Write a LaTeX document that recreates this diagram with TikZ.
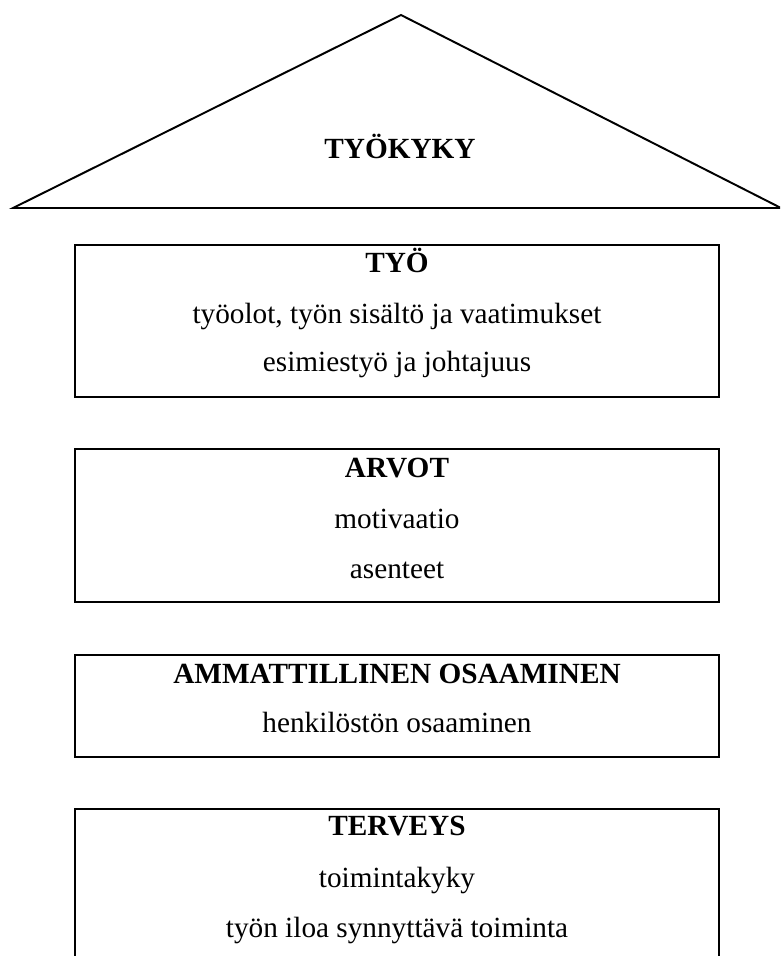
\documentclass[tikz,border=0pt]{standalone}
\usepackage{fontspec}
\setmainfont{Liberation Serif}
\usetikzlibrary{fit}
\begin{document}
\begin{tikzpicture}[x=0.41pt, y=-0.41pt, line width=0.8pt,
  layer/.style={draw, rectangle, inner sep=0pt},
  head/.style={font=\fontsize{12pt}{14pt}\selectfont\bfseries, anchor=base, inner sep=0pt},
  item/.style={font=\fontsize{12pt}{14pt}\selectfont, anchor=base, inner sep=0pt}]
\useasboundingbox (0,0) rectangle (780,956);
\clip (0,0) rectangle (780,956);

% roof
\coordinate (apex) at (401,15);
\coordinate (baseL) at (13,208);
\coordinate (baseR) at (781,208);
\draw (baseL) -- (apex) -- (baseR) -- cycle;
\node[head] (roof) at (400,158) {TYÖKYKY};

% floors
\node[layer, fit={(75,245) (719,397)}] (tyo) {};
\node[head] (tyoH) at (397,272) {TYÖ};
\node[item] (tyo1) at (397,323) {työolot, työn sisältö ja vaatimukset};
\node[item] (tyo2) at (397,371) {esimiestyö ja johtajuus};

\node[layer, fit={(75,449) (719,602)}] (arvot) {};
\node[head] (arvotH) at (397,477) {ARVOT};
\node[item] (arvot1) at (397,528) {motivaatio};
\node[item] (arvot2) at (397,578) {asenteet};

\node[layer, fit={(75,655) (719,757)}] (osaam) {};
\node[head] (osaamH) at (397,683) {AMMATTILLINEN OSAAMINEN};
\node[item] (osaam1) at (397,732) {henkilöstön osaaminen};

\node[layer, fit={(75,809) (719,975)}] (terv) {};
\node[head] (tervH) at (397,835) {TERVEYS};
\node[item] (terv1) at (397,887) {toimintakyky};
\node[item] (terv2) at (397,937) {työn iloa synnyttävä toiminta};
\end{tikzpicture}
\end{document}
